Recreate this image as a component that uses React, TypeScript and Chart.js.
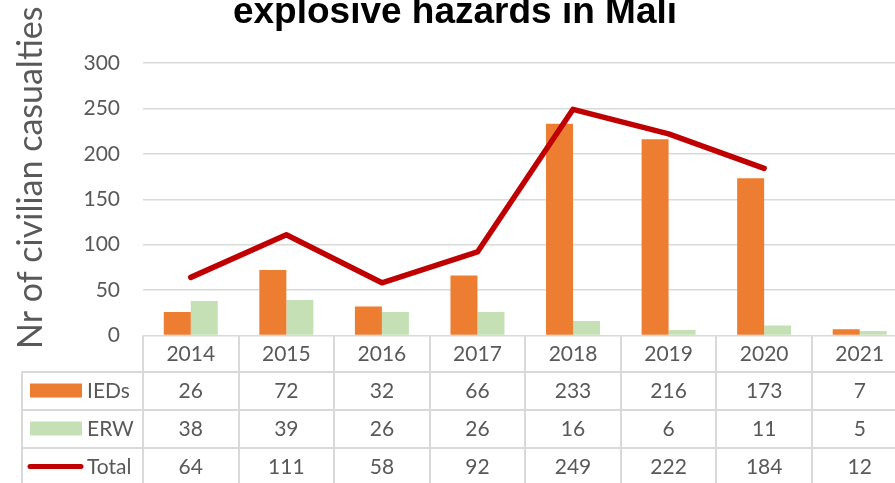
import React, { useEffect, useRef } from "react";
import { Chart, registerables } from "chart.js";

Chart.register(...registerables);

const years = ["2014", "2015", "2016", "2017", "2018", "2019", "2020", "2021"];
const ieds = [26, 72, 32, 66, 233, 216, 173, 7];
const erw = [38, 39, 26, 26, 16, 6, 11, 5];
const totals = [64, 111, 58, 92, 249, 222, 184, 12];
const lastLineYear = "2020";
const yTicks = [0, 50, 100, 150, 200, 250, 300];

const titleText = "explosive hazards in Mali";
const yTitleText = "Nr of civilian casualties";

const ORANGE = "#ED7D31";
const GREEN = "#C5E0B4";
const RED = "#C00000";
const TEXT = "#595959";
const GRID = "#D9D9D9";
const FONT = "Lato, 'Open Sans', sans-serif";

const lineValues = totals.map((v, i) =>
  i <= years.indexOf(lastLineYear) ? v : null
);

const decorPlugin = {
  id: "decor",
  afterDraw(chart: any) {
    const ctx = chart.ctx as CanvasRenderingContext2D;
    const xs = chart.scales.x;
    const area = chart.chartArea;
    const n = years.length;
    const catW = (xs.right - xs.left) / n;
    const H = chart.height;

    // Title (partially clipped at top)
    ctx.save();
    ctx.fillStyle = "#000";
    ctx.font = "bold 37px 'Liberation Sans', Arial, sans-serif";
    ctx.textAlign = "center";
    ctx.textBaseline = "alphabetic";
    ctx.fillText(titleText, 455, 22.5);
    ctx.restore();

    // Y axis title
    ctx.save();
    ctx.fillStyle = TEXT;
    ctx.font = `34px ${FONT}`;
    ctx.translate(31, 349);
    ctx.rotate(-Math.PI / 2);
    ctx.textAlign = "left";
    ctx.textBaseline = "middle";
    ctx.fillText(yTitleText, 0, 0);
    ctx.restore();

    // Data table
    const top = area.bottom;
    const headerBottom = top + 36;
    const rowH = 38;
    const tableLeft = 22;
    ctx.save();
    ctx.strokeStyle = GRID;
    ctx.lineWidth = 2;
    ctx.beginPath();
    for (let k = 0; k <= n; k++) {
      const x = Math.round(xs.left + k * catW);
      ctx.moveTo(x, top);
      ctx.lineTo(x, H);
    }
    ctx.moveTo(tableLeft, headerBottom);
    ctx.lineTo(tableLeft, H);
    for (let r = 0; r < 3; r++) {
      const y = Math.round(headerBottom + r * rowH);
      ctx.moveTo(tableLeft, y);
      ctx.lineTo(xs.right, y);
    }
    ctx.stroke();

    ctx.fillStyle = TEXT;
    ctx.font = `21px ${FONT}`;
    ctx.textAlign = "center";
    ctx.textBaseline = "middle";
    for (let i = 0; i < n; i++) {
      const cx = xs.getPixelForValue(i);
      ctx.fillText(years[i], cx, (top + headerBottom) / 2 + 1);
      ctx.fillText(String(ieds[i]), cx, headerBottom + rowH / 2 + 1);
      ctx.fillText(String(erw[i]), cx, headerBottom + rowH * 1.5 + 1);
      ctx.fillText(String(totals[i]), cx, headerBottom + rowH * 2.5 + 1);
    }

    // Legend keys
    const rows = [
      { label: "IEDs", type: "bar", color: ORANGE },
      { label: "ERW", type: "bar", color: GREEN },
      { label: "Total", type: "line", color: RED },
    ];
    rows.forEach((r, idx) => {
      const cy = headerBottom + rowH * (idx + 0.5);
      if (r.type === "bar") {
        ctx.fillStyle = r.color;
        ctx.fillRect(30, cy - 7, 52, 14);
      } else {
        ctx.strokeStyle = r.color;
        ctx.lineWidth = 5;
        ctx.lineCap = "round";
        ctx.beginPath();
        ctx.moveTo(30, cy);
        ctx.lineTo(81, cy);
        ctx.stroke();
      }
      ctx.fillStyle = TEXT;
      ctx.textAlign = "left";
      ctx.fillText(r.label, 87, cy + 1);
    });
    ctx.restore();
  },
};

export default function App() {
  const ref = useRef<HTMLCanvasElement | null>(null);

  useEffect(() => {
    if (!ref.current) return;
    const chart = new Chart(ref.current, {
      type: "bar",
      data: {
        labels: years,
        datasets: [
          {
            type: "line",
            label: "Total",
            data: lineValues,
            borderColor: RED,
            backgroundColor: RED,
            borderWidth: 5.5,
            borderCapStyle: "round",
            borderJoinStyle: "round",
            pointRadius: 0,
            tension: 0,
            spanGaps: false,
            order: 0,
          } as any,
          {
            type: "bar",
            label: "IEDs",
            data: ieds,
            backgroundColor: ORANGE,
            categoryPercentage: 0.565,
            barPercentage: 1,
            order: 1,
          },
          {
            type: "bar",
            label: "ERW",
            data: erw,
            backgroundColor: GREEN,
            categoryPercentage: 0.565,
            barPercentage: 1,
            order: 1,
          },
        ],
      },
      options: {
        responsive: false,
        animation: false,
        devicePixelRatio: 1,
        layout: { padding: { left: 0, top: 63, right: 2.5, bottom: 147.5 } },
        plugins: {
          legend: { display: false },
          title: { display: false },
          tooltip: { enabled: false },
        },
        scales: {
          x: {
            display: false,
            offset: true,
          },
          y: {
            min: 0,
            max: 300,
            afterBuildTicks: (scale: any) => {
              scale.ticks = yTicks.map((v) => ({ value: v }));
            },
            afterFit: (scale: any) => {
              scale.width = 143;
            },
            border: { display: false },
            grid: { color: GRID, lineWidth: 1.5, drawTicks: false },
            ticks: {
              color: TEXT,
              font: { family: FONT, size: 21 },
              padding: 23,
            },
          },
        },
      },
      plugins: [decorPlugin],
    });
    return () => chart.destroy();
  }, []);

  return (
    <div
      style={{
        position: "absolute",
        left: 0,
        top: 0,
        width: 895,
        height: 483,
        overflow: "hidden",
        background: "#fff",
      }}
    >
      <canvas ref={ref} width={910} height={483} style={{ display: "block" }} />
    </div>
  );
}
